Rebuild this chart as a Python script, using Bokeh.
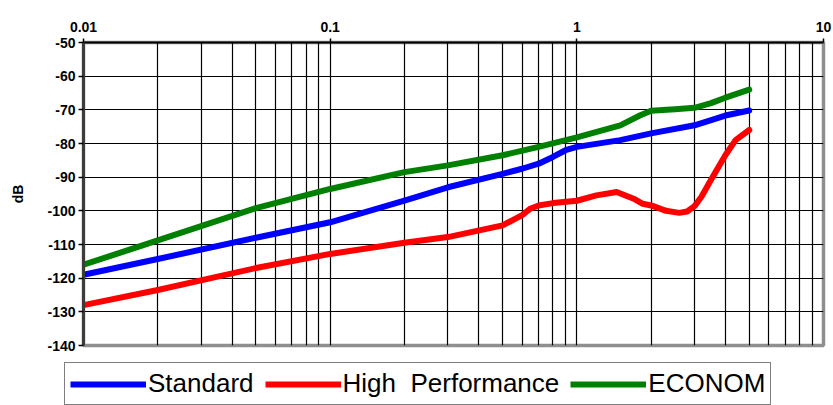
from bokeh.plotting import figure
from bokeh.models import FixedTicker, Legend, LegendItem, Range1d
from bokeh.layouts import column
from bokeh.embed import file_html
from bokeh.resources import INLINE

# ---- data ----
x_std = [0.01, 0.02, 0.05, 0.1, 0.2, 0.3, 0.5, 0.6, 0.7, 0.8, 0.9, 1.0, 1.5, 2.0, 3.0, 4.0, 5.0]
y_std = [-119, -114.3, -108, -103.4, -97, -93, -89, -87.5, -86, -84, -82, -81, -79, -77, -74.6, -71.7, -70.2]

x_hp = [0.01, 0.02, 0.05, 0.1, 0.2, 0.3, 0.5, 0.6, 0.65, 0.7, 0.8, 1.0, 1.2, 1.45, 1.7, 1.85, 2.0,
        2.3, 2.6, 2.8, 3.0, 3.2, 3.5, 4.0, 4.4, 5.0]
y_hp = [-128, -123.5, -117, -112.8, -109.5, -107.8, -104.3, -101.3, -99.3, -98.4, -97.7, -97, -95.4,
        -94.4, -96.4, -97.9, -98.4, -100, -100.6, -100.2, -98.6, -95.8, -90.8, -83.5, -79, -76]

x_eco = [0.01, 0.02, 0.05, 0.1, 0.2, 0.3, 0.5, 0.7, 1.0, 1.5, 1.8, 2.0, 2.5, 3.0, 3.5, 4.0, 5.0]
y_eco = [-116, -108.8, -99.2, -93.5, -88.5, -86.5, -83.5, -81, -78.2, -74.6, -71.7, -70.3, -69.8,
         -69.4, -68, -66.4, -64]

series_names = ["Standard", "High  Performance", "ECONOM"]
series_colors = ["#0000ff", "#ff0000", "#008000"]

x_major = [0.01, 0.1, 1, 10]
x_major_labels = ["0.01", "0.1", "1", "10"]
x_minor = [m * d for d in (0.01, 0.1, 1) for m in range(2, 10)]
y_ticks = [-140, -130, -120, -110, -100, -90, -80, -70, -60, -50]
y_tick_labels = ["-140", "-130", "-120", "-110", "-100", "-90", "-80", "-70", "-60", "-50"]

FONT = "Liberation Sans"
TOTAL_W = 833
TOTAL_H = 405

p = figure(x_axis_type="log", x_axis_location="above",
           x_range=Range1d(0.01, 10), y_range=Range1d(-140, -50),
           frame_width=740, frame_height=303,
           min_border_left=83, min_border_top=42, min_border_right=10, min_border_bottom=10,
           output_backend="svg", toolbar_location=None,
           background_fill_color="white", border_fill_color="white")

# grid
p.xaxis.ticker = FixedTicker(ticks=x_major, minor_ticks=x_minor)
p.yaxis.ticker = FixedTicker(ticks=y_ticks)
p.xgrid.grid_line_color = "black"
p.xgrid.grid_line_width = 1.2
p.xgrid.minor_grid_line_color = "black"
p.xgrid.minor_grid_line_width = 1.2
p.ygrid.grid_line_color = "black"
p.ygrid.grid_line_width = 1.2

# frame
p.outline_line_color = "#8f8f8f"
p.outline_line_width = 3.5
p.outline_line_alpha = 1.0

# x axis (top)
xa = p.xaxis[0]
xa.major_label_overrides = dict(zip(x_major, x_major_labels))
xa.axis_line_color = "black"
xa.axis_line_width = 2
xa.major_tick_in = 0
xa.major_tick_out = 4
xa.major_tick_line_width = 1.5
xa.minor_tick_in = 0
xa.minor_tick_out = 0
xa.major_label_text_font = FONT
xa.major_label_text_font_style = "bold"
xa.major_label_text_font_size = "14px"
xa.major_label_text_color = "black"
xa.major_label_standoff = 7

# y axis (left)
ya = p.yaxis[0]
ya.major_label_overrides = dict(zip(y_ticks, y_tick_labels))
ya.axis_label = "dB"
ya.axis_label_text_font = FONT
ya.axis_label_text_font_style = "bold"
ya.axis_label_text_font_size = "14px"
ya.axis_label_text_color = "black"
ya.axis_label_standoff = 18
ya.axis_line_color = "#3c3c3c"
ya.axis_line_width = 3
ya.major_tick_in = 0
ya.major_tick_out = 5
ya.major_tick_line_width = 1.5
ya.minor_tick_line_color = None
ya.major_label_text_font = FONT
ya.major_label_text_font_style = "bold"
ya.major_label_text_font_size = "14px"
ya.major_label_text_color = "black"
ya.major_label_standoff = 3

xs = [x_std, x_hp, x_eco]
ys = [y_std, y_hp, y_eco]
for color, xv, yv in zip(series_colors, xs, ys):
    p.line(xv, yv, line_color=color, line_width=6, line_join="round", line_cap="round")

# ---- legend strip below the chart (same series, legend only) ----
main_h = 42 + 303 + 10
leg_h = TOTAL_H - main_h
lf = figure(x_axis_location=None, y_axis_location=None,
            x_range=Range1d(0, 1), y_range=Range1d(0, 1),
            frame_width=TOTAL_W, frame_height=leg_h,
            min_border_left=0, min_border_right=0, min_border_top=0, min_border_bottom=0,
            output_backend="svg", toolbar_location=None,
            background_fill_color="white", border_fill_color="white")
lf.grid.visible = False
lf.outline_line_color = None

items = []
for name, color, xv, yv in zip(series_names, series_colors, xs, ys):
    # same series; they lie outside this strip's range, only their legend entries show
    r = lf.line(xv, yv, line_color=color, line_width=6)
    items.append(LegendItem(label=name, renderers=[r]))

legend = Legend(items=items, orientation="horizontal", location=(64, 0),
                padding=5, spacing=11, label_standoff=2, margin=0,
                glyph_width=76, glyph_height=20,
                border_line_color="black", border_line_width=1.5,
                background_fill_color="white", background_fill_alpha=1.0,
                label_text_font=FONT, label_text_font_size="26px", label_text_color="black")
lf.add_layout(legend)

layout = column(p, lf, spacing=0)
open("out.html", "w").write(file_html(layout, INLINE))
